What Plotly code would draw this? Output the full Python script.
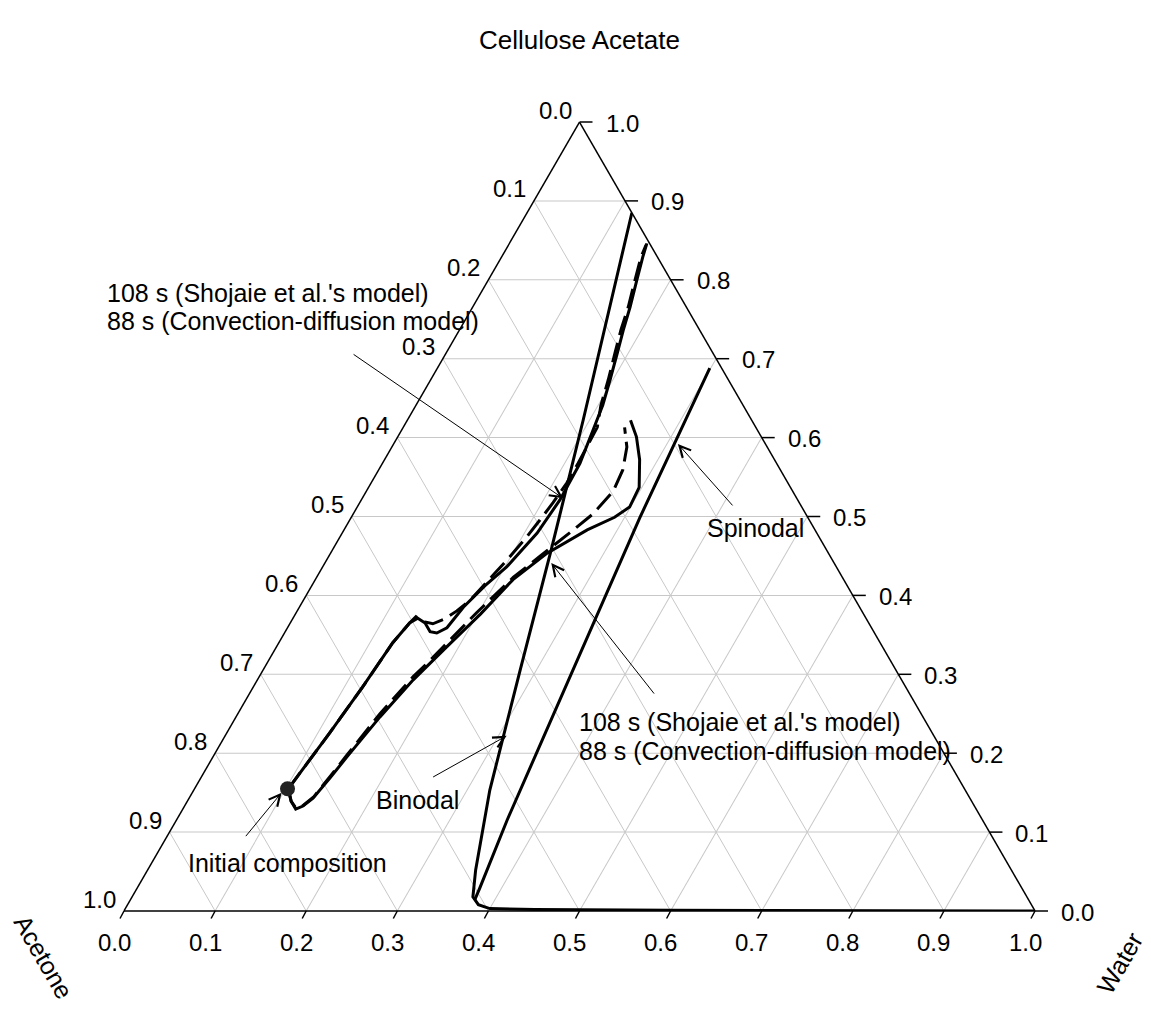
import plotly.graph_objects as go

# ---------------- data (mass fractions) ----------------
# Binodal curve
binodal_ca      = [0.885, 0.622, 0.458, 0.306, 0.153, 0.052, 0.018, 0.008, 0.003, 0.002, 0.001, 0.0]
binodal_acetone = [0.000, 0.185, 0.302, 0.412, 0.522, 0.588, 0.608, 0.607, 0.597, 0.548, 0.399, 0.0]
binodal_water   = [0.115, 0.193, 0.240, 0.282, 0.325, 0.360, 0.374, 0.385, 0.400, 0.450, 0.600, 1.0]

# Spinodal curve
spinodal_ca      = [0.688, 0.498, 0.306, 0.115, 0.029, 0.014]
spinodal_acetone = [0.013, 0.185, 0.354, 0.522, 0.595, 0.608]
spinodal_water   = [0.299, 0.317, 0.340, 0.363, 0.376, 0.378]

# Composition path, upper branch, solid line
path_us_ca      = [0.155, 0.170, 0.226, 0.284, 0.340, 0.365, 0.371, 0.365, 0.354, 0.352, 0.359, 0.385, 0.412, 0.436, 0.479,
                   0.521, 0.568, 0.610, 0.641, 0.673, 0.707, 0.736, 0.766, 0.800, 0.829, 0.847]
path_us_acetone = [0.743, 0.725, 0.661, 0.596, 0.535, 0.504, 0.492, 0.487, 0.487, 0.480, 0.466, 0.435, 0.398, 0.362, 0.307,
                   0.261, 0.216, 0.180, 0.154, 0.130, 0.105, 0.084, 0.062, 0.037, 0.016, 0.003]
path_us_water   = [0.103, 0.105, 0.113, 0.120, 0.125, 0.131, 0.137, 0.148, 0.159, 0.167, 0.175, 0.180, 0.190, 0.202, 0.214,
                   0.218, 0.217, 0.210, 0.205, 0.197, 0.188, 0.180, 0.173, 0.163, 0.155, 0.151]

# Composition path, upper branch, dashed line
path_ud_ca      = [0.155, 0.170, 0.226, 0.284, 0.340, 0.365, 0.373, 0.366, 0.364, 0.370, 0.380, 0.394, 0.407, 0.428, 0.445,
                   0.474, 0.496, 0.517, 0.543, 0.568, 0.588, 0.613, 0.641, 0.673, 0.707, 0.736, 0.766, 0.800, 0.829, 0.844]
path_ud_acetone = [0.743, 0.725, 0.661, 0.596, 0.535, 0.504, 0.493, 0.486, 0.479, 0.462, 0.444, 0.423, 0.406, 0.379, 0.357,
                   0.321, 0.296, 0.270, 0.243, 0.218, 0.198, 0.174, 0.156, 0.132, 0.107, 0.086, 0.064, 0.039, 0.018, 0.005]
path_ud_water   = [0.103, 0.105, 0.113, 0.120, 0.125, 0.131, 0.134, 0.147, 0.157, 0.167, 0.175, 0.183, 0.187, 0.193, 0.198,
                   0.205, 0.209, 0.212, 0.215, 0.215, 0.214, 0.213, 0.203, 0.195, 0.185, 0.177, 0.171, 0.161, 0.153, 0.151]

# Composition path, lower branch, solid line
path_ls_ca      = [0.155, 0.139, 0.129, 0.133, 0.143, 0.169, 0.195, 0.246, 0.293, 0.335, 0.376, 0.420, 0.454, 0.483,
                   0.499, 0.512, 0.537, 0.572, 0.601, 0.622]
path_ls_acetone = [0.743, 0.747, 0.747, 0.737, 0.721, 0.690, 0.658, 0.596, 0.536, 0.478, 0.421, 0.363, 0.309, 0.250,
                   0.212, 0.189, 0.166, 0.148, 0.137, 0.133]
path_ls_water   = [0.103, 0.114, 0.124, 0.130, 0.136, 0.142, 0.147, 0.158, 0.171, 0.187, 0.203, 0.217, 0.238, 0.267,
                   0.289, 0.299, 0.297, 0.280, 0.262, 0.245]

# Composition path, lower branch, dashed line
path_ld_ca      = [0.155, 0.139, 0.130, 0.134, 0.145, 0.171, 0.198, 0.250, 0.297, 0.317, 0.378, 0.423, 0.450, 0.480,
                   0.503, 0.532, 0.559, 0.588, 0.613]
path_ld_acetone = [0.743, 0.747, 0.746, 0.736, 0.719, 0.688, 0.656, 0.594, 0.534, 0.506, 0.424, 0.361, 0.318, 0.270,
                   0.234, 0.197, 0.173, 0.154, 0.144]
path_ld_water   = [0.103, 0.114, 0.124, 0.130, 0.136, 0.141, 0.146, 0.156, 0.169, 0.177, 0.198, 0.216, 0.232, 0.250,
                   0.263, 0.271, 0.268, 0.258, 0.243]

# Initial composition
initial_ca, initial_acetone, initial_water = [0.155], [0.743], [0.102]

tick_values = [0.0, 0.1, 0.2, 0.3, 0.4, 0.5, 0.6, 0.7, 0.8, 0.9, 1.0]

time_label_lines = ["108 s (Shojaie et al.'s model)", "88 s (Convection-diffusion model)"]

# ---------------- geometry helpers ----------------
FONT = "Arial, Liberation Sans, sans-serif"
W_PX, H_PX = 911.0, 789.0      # size of the ternary plot area (px)
ML, MR, MT, MB = 124, 116, 122, 100


def tern_to_paper(ca, water):
    """paper coords of a composition (triangle fills the plot area)."""
    return water + ca / 2.0, ca


fig = go.Figure()


def add_line(a, b, c, dash="solid", width=3):
    fig.add_trace(go.Scatterternary(
        a=a, b=b, c=c, mode="lines",
        line=dict(color="black", width=width, dash=dash),
        hoverinfo="skip", showlegend=False))


add_line(binodal_ca, binodal_acetone, binodal_water)
add_line(spinodal_ca, spinodal_acetone, spinodal_water)
add_line(path_us_ca, path_us_acetone, path_us_water)
add_line(path_ud_ca, path_ud_acetone, path_ud_water, dash="20px,8px")
add_line(path_ls_ca, path_ls_acetone, path_ls_water)
add_line(path_ld_ca, path_ld_acetone, path_ld_water, dash="20px,8px")

fig.add_trace(go.Scatterternary(
    a=initial_ca, b=initial_acetone, c=initial_water, mode="markers",
    marker=dict(color="#222222", size=15, symbol="circle"),
    hoverinfo="skip", showlegend=False))

axis_common = dict(
    tickmode="array", tickvals=tick_values, ticks="", showticklabels=False,
    showgrid=True, gridcolor="#c8c8c8", gridwidth=1,
    showline=True, linecolor="black", linewidth=1.5,
    title=dict(text=""), min=0,
)

fig.update_layout(
    width=1151, height=1011,
    margin=dict(l=ML, r=MR, t=MT, b=MB),
    paper_bgcolor="white",
    font=dict(family=FONT, color="black"),
    showlegend=False,
    ternary=dict(sum=1, bgcolor="white",
                 aaxis=axis_common, baxis=axis_common, caxis=axis_common),
)

tick_font = dict(family=FONT, size=24, color="black")
shapes = []
for v in tick_values:
    lab = f"{v:.1f}"
    # left edge: acetone fraction (water = 0)
    x, y = tern_to_paper(1 - v, 0.0)
    fig.add_annotation(xref="paper", yref="paper", x=x, y=y, text=lab, showarrow=False,
                       xanchor="right", yanchor="middle", xshift=-6, yshift=12, font=tick_font)
    # bottom edge: water fraction (CA = 0)
    x, y = tern_to_paper(0.0, v)
    fig.add_annotation(xref="paper", yref="paper", x=x, y=y, text=lab, showarrow=False,
                       xanchor="center", yanchor="middle", xshift=-10, yshift=-31, font=tick_font)
    shapes.append(dict(type="line", xref="paper", yref="paper", x0=x, y0=y,
                       x1=x - 4 / W_PX, y1=y - 7.5 / H_PX, line=dict(color="black", width=1.5)))
    # right edge: cellulose acetate fraction (acetone = 0)
    x, y = tern_to_paper(v, 1 - v)
    fig.add_annotation(xref="paper", yref="paper", x=x, y=y, text=lab, showarrow=False,
                       xanchor="left", yanchor="middle", xshift=24, yshift=-1, font=tick_font)
    shapes.append(dict(type="line", xref="paper", yref="paper", x0=x, y0=y,
                       x1=x + 13 / W_PX, y1=y, line=dict(color="black", width=1.5)))
fig.update_layout(shapes=shapes)

ann_font = dict(family=FONT, size=25, color="black")
texts = [
    dict(text=time_label_lines[0], x=-0.021, y=0.783, xanchor="left"),
    dict(text=time_label_lines[1], x=-0.021, y=0.748, xanchor="left"),
    dict(text=time_label_lines[0], x=0.497, y=0.2395, xanchor="left"),
    dict(text=time_label_lines[1], x=0.497, y=0.203, xanchor="left"),
    dict(text="Binodal", x=0.322, y=0.141, xanchor="center"),
    dict(text="Spinodal", x=0.693, y=0.485, xanchor="center"),
    dict(text="Initial composition", x=0.179, y=0.061, xanchor="center"),
]
for t in texts:
    fig.add_annotation(xref="paper", yref="paper", showarrow=False, yanchor="middle",
                       font=ann_font, **t)

# arrows: head position (paper) and tail offset (pixels)
arrows = [
    (0.482, 0.523, -211, -145),
    (0.469, 0.441, 104, 132),
    (0.420, 0.222, -75, 42),
    (0.608, 0.592, 56, 63),
    (0.173, 0.150, -37, 45),
]
for x, y, ax, ay in arrows:
    fig.add_annotation(xref="paper", yref="paper", x=x, y=y, ax=ax, ay=ay, text="",
                       showarrow=True, arrowhead=5, arrowsize=2.2, arrowwidth=1,
                       arrowcolor="black", standoff=0)

# axis titles
title_font = dict(family=FONT, size=26, color="black")
fig.add_annotation(xref="paper", yref="paper", x=0.5, y=1.104, text="Cellulose Acetate",
                   xanchor="center", yanchor="middle", showarrow=False, font=title_font)
fig.add_annotation(xref="paper", yref="paper", x=-0.088, y=-0.058, text="Acetone", textangle=60,
                   xanchor="center", yanchor="middle", showarrow=False, font=ann_font)
fig.add_annotation(xref="paper", yref="paper", x=1.093, y=-0.066, text="Water", textangle=-60,
                   xanchor="center", yanchor="middle", showarrow=False, font=ann_font)

fig.write_html("out.html")
